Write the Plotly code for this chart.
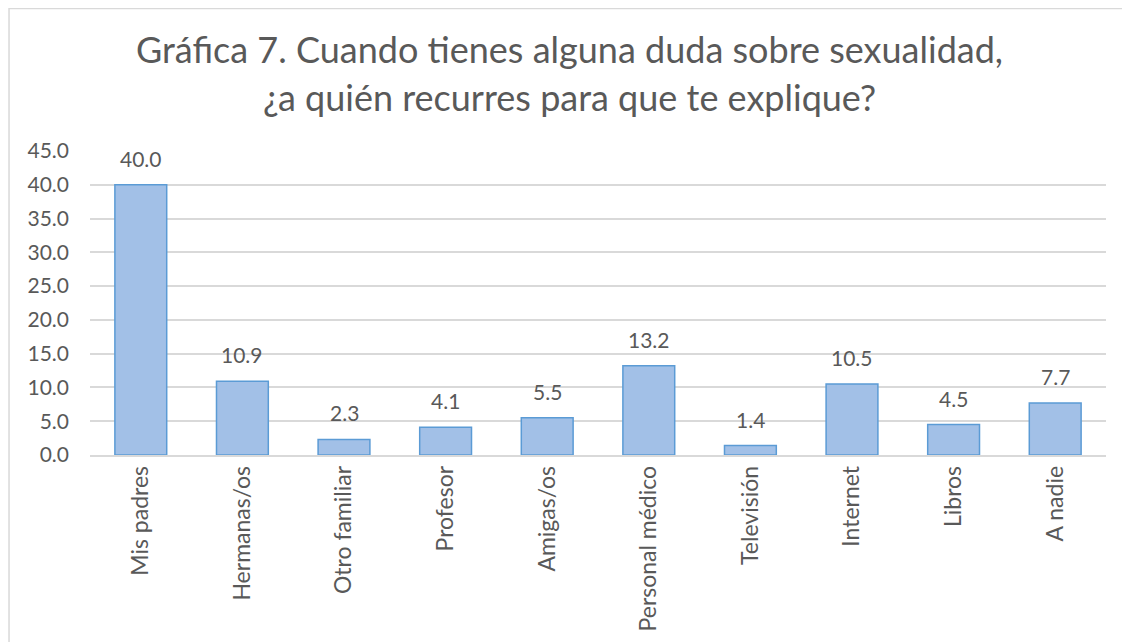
import plotly.graph_objects as go

categories = ["Mis padres", "Hermanas/os", "Otro familiar", "Profesor", "Amigas/os",
              "Personal médico", "Televisión", "Internet", "Libros", "A nadie"]
values = [40.0, 10.9, 2.3, 4.1, 5.5, 13.2, 1.4, 10.5, 4.5, 7.7]
y_ticks = [0, 5, 10, 15, 20, 25, 30, 35, 40, 45]
title_lines = ["Gráfica 7. Cuando tienes alguna duda sobre sexualidad,",
               "¿a quién recurres para que te explique?"]

FONT = "Lato, Carlito, Calibri, sans-serif"
GRAY = "#595959"

fig = go.Figure(go.Bar(
    x=categories, y=values,
    width=0.51,
    marker=dict(color="#a2c0e7", line=dict(color="#5b9bd5", width=1.5)),
    hoverinfo="x+y",
))

for c, v in zip(categories, values):
    fig.add_annotation(x=c, y=v, text=f"{v:.1f}", showarrow=False,
                       yanchor="bottom", yshift=12,
                       font=dict(family=FONT, size=21, color=GRAY))

for i, line in enumerate(title_lines):
    fig.add_annotation(xref="paper", yref="paper", x=0.4724, y=[1.335, 1.177][i],
                       xanchor="center", yanchor="middle", text=line, showarrow=False,
                       font=dict(family=FONT, size=36, color=GRAY))

fig.update_layout(
    width=1122, height=634,
    margin=dict(l=82, r=24, t=143, b=187, autoexpand=False),
    paper_bgcolor="white", plot_bgcolor="white",
    showlegend=False,
    xaxis=dict(tickangle=-90, tickfont=dict(family=FONT, size=23, color=GRAY),
               showline=True, linecolor="#d9d9d9", linewidth=1.5, ticks="",
               showgrid=False, automargin=False, ticklabelstandoff=0),
    yaxis=dict(range=[0, 45], tickvals=y_ticks, tickformat=".1f",
               tickfont=dict(family=FONT, size=21, color=GRAY),
               showgrid=True, gridcolor="#d9d9d9", gridwidth=1.5,
               zeroline=False, showline=False, ticks="", ticklen=0,
               automargin=False, ticklabelstandoff=20),
    shapes=[dict(type="rect", xref="paper", yref="paper",
                 x0=-0.0797, x1=1.06, y0=-0.7, y1=1.4685,
                 line=dict(color="#d9d9d9", width=1.5), fillcolor="rgba(0,0,0,0)")],
    bargap=0.49,
)

fig.write_html("out.html")
